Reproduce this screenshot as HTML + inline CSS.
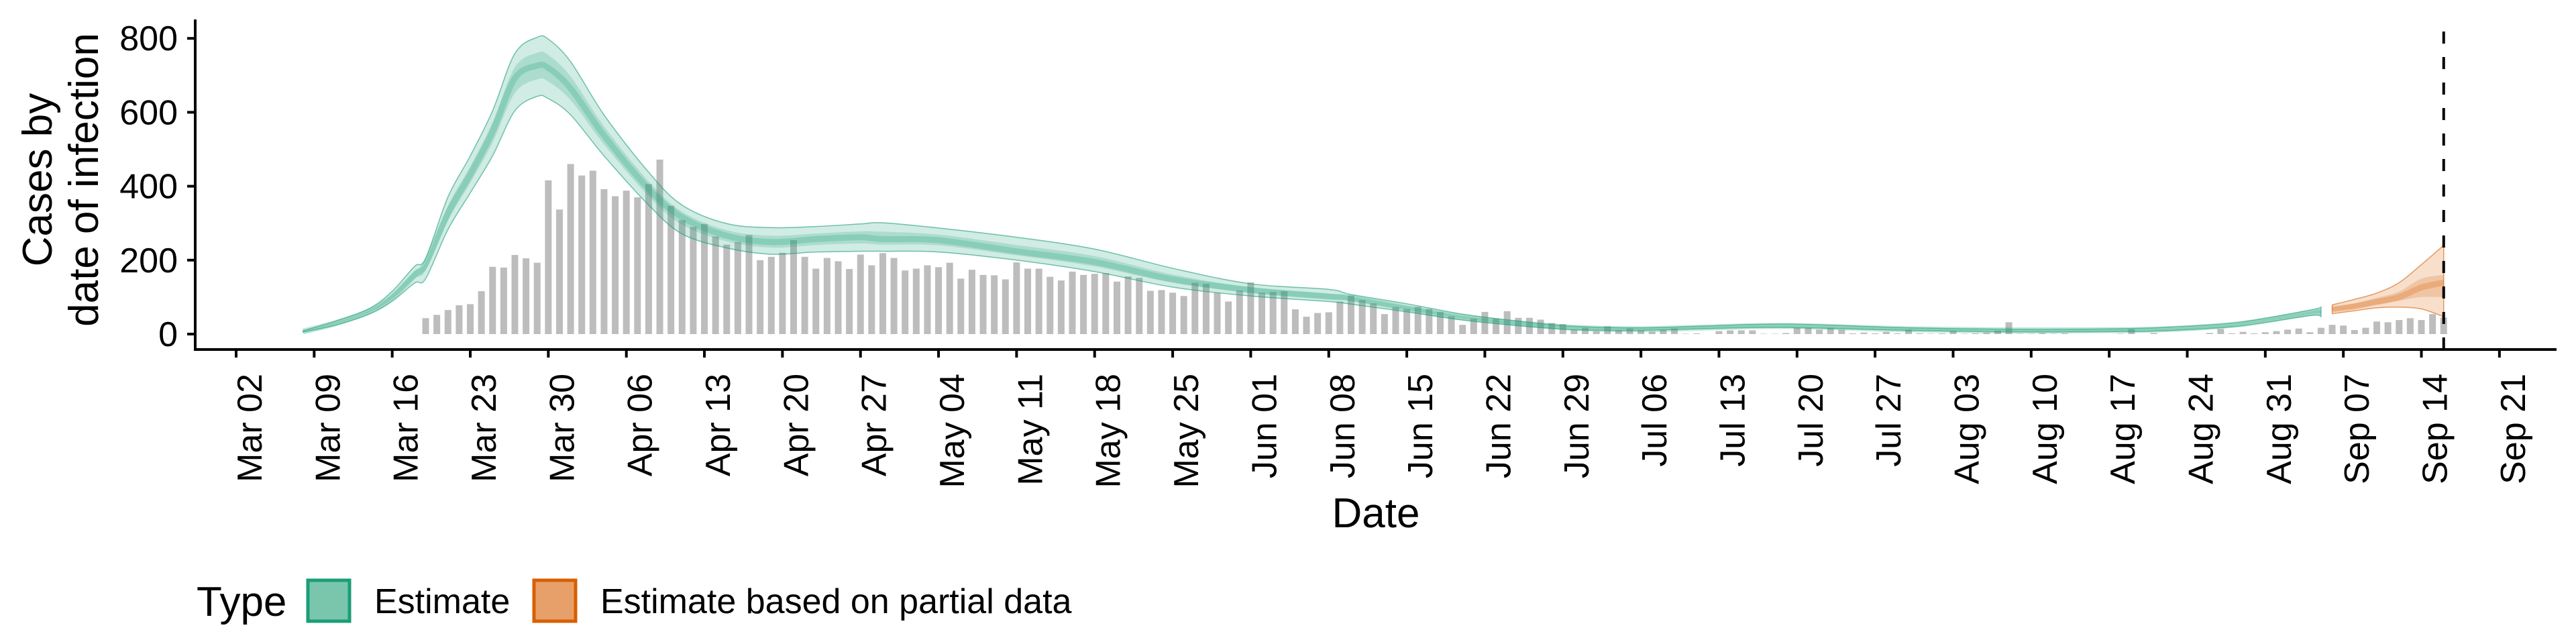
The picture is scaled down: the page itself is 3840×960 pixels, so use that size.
<!DOCTYPE html>
<html><head><meta charset="utf-8">
<style>
html,body{margin:0;padding:0;background:#fff;}
svg{display:block;font-family:"Liberation Sans",sans-serif;}
</style></head>
<body>
<svg id="chart" width="3840" height="960" viewBox="0 0 3840 960" xmlns="http://www.w3.org/2000/svg">
  <g id="bars"></g>
  <g id="bands"></g>
  <g id="axes"></g>
  <g font-size="62" fill="#000">
    <text transform="translate(77,268) rotate(-90)" text-anchor="middle">Cases by</text>
    <text transform="translate(146,268) rotate(-90)" text-anchor="middle">date of infection</text>
  </g>
  <text x="2051" y="786" font-size="62" text-anchor="middle">Date</text>
  <g>
    <text x="293" y="918" font-size="62">Type</text>
    <g>
      <rect x="459" y="865" width="62" height="61" fill="#79c6ad" stroke="#1b9e77" stroke-width="5"/>
      <text x="558" y="914" font-size="52">Estimate</text>
    </g>
    <g>
      <rect x="796" y="865" width="62" height="61" fill="#e8a06a" stroke="#d95f02" stroke-width="5"/>
      <text x="895" y="914" font-size="52">Estimate based on partial data</text>
    </g>
  </g>
</svg>
<script>
// ---- data ----
const barStartDay = 17; // Mar 19 (day 0 = Mar 02)
const barValues = [43,52,65,78,81,116,182,180,214,205,193,416,337,460,429,442,392,373,388,370,406,472,347,308,290,298,264,242,249,268,200,209,220,254,209,177,206,197,176,
215,186,219,206,172,177,186,181,193,150,174,160,159,148,194,177,177,155,145,169,160,163,165,142,156,152,117,119,112,103,139,136,112,88,118,140,112,114,116,67,47,57,59,
88,104,92,83,54,73,68,74,68,60,48,25,42,60,42,62,44,44,39,30,27,12,17,8,21,10,15,10,7,11,15,1,2,0,8,10,10,10,1,1,3,
17,17,12,17,12,2,4,2,6,2,12,2,1,2,9,1,2,4,9,32,1,1,3,1,2,0,0,0,0,1,13,0,3,0,0,0,0,3,14,2,6,2,5,
8,12,15,5,17,25,23,11,17,34,32,38,43,38,54,45];
const estDays = [6,9,12,14,16,17,19,21,23,25,27,28,30,33,37,40,44,48,52,56,58,63,70,77,84,91,98,100,105,110,115,120,126,132,139,150,160,170,175,180,186,187];
const estMedian = [7,30,62,100,160,190,327,432,548,692,726,720,665,537,393,316,266,249,257,262,257,254,224,195,148,119,101,97,70,45,29,17,13,18,22,13,10,11,16,28,57,60];
const estHi90 = [9,36,70,116,183,205,371,482,604,759,803,798,737,593,438,349,299,288,291,298,301,287,262,230,178,136,121,107,82,54,35,21,17,22,27,17,13,15,21,33,65,73];
const estLo90 = [5,25,55,89,138,150,283,382,482,604,643,637,593,482,349,271,233,216,222,224,224,222,200,169,127,103,88,81,60,38,23,12,10,15,18,10,6,7,12,23,50,47];
const estHi50 = [8,33,66,107,170,197,347,454,573,722,761,755,697,562,413,331,281,266,272,278,277,269,241,211,161,127,110,102,75,49,32,19,15,20,24,15,11,13,18,30,61,66];
const estLo50 = [6,28,59,95,150,172,307,409,518,652,689,683,633,513,373,296,251,234,241,245,242,240,213,183,139,112,95,90,66,42,26,15,12,17,20,12,8,9,14,26,54,54];
const partDays = [188,190,192,194,196,198];
const partMedian = [67,75,87,100,126,139];
const partHi90 = [79,94,111,139,188,240];
const partLo90 = [55,63,71,73,68,47];
const partHi50 = [72,83,98,115,150,160];
const partLo50 = [62,69,80,90,100,100];
const yTicks = [0,200,400,600,800];
const xTickLabels = ["Mar 02","Mar 09","Mar 16","Mar 23","Mar 30","Apr 06","Apr 13","Apr 20","Apr 27","May 04","May 11","May 18","May 25","Jun 01","Jun 08","Jun 15","Jun 22","Jun 29","Jul 06","Jul 13","Jul 20","Jul 27","Aug 03","Aug 10","Aug 17","Aug 24","Aug 31","Sep 07","Sep 14","Sep 21"];
const cutoffDay = 198;

// ---- scales ----
const X0 = 352, DX = 16.62, Y0 = 498, DY = 0.551;
const x = d => X0 + d * DX;
const y = v => Y0 - v * DY;
const NS = "http://www.w3.org/2000/svg";
function mk(tag, attrs, parent){const e=document.createElementNS(NS,tag);for(const k in attrs)e.setAttribute(k,attrs[k]);parent.appendChild(e);return e;}

// bars
const gb = document.getElementById('bars');
barValues.forEach((v,i)=>{
  const d = barStartDay + i;
  const r = mk('rect',{x:x(d)-5,y:y(v),width:10,height:Math.max(0,Y0-y(v)),fill:'#bdbdbd'},gb);
  
  
});

// smooth path helper (Catmull-Rom)
function smooth(pts){
  let s = `M${pts[0][0]},${pts[0][1]}`;
  for(let i=0;i<pts.length-1;i++){
    const p0=pts[Math.max(0,i-1)],p1=pts[i],p2=pts[i+1],p3=pts[Math.min(pts.length-1,i+2)];
    const c1=[p1[0]+(p2[0]-p0[0])/6,p1[1]+(p2[1]-p0[1])/6];
    const c2=[p2[0]-(p3[0]-p1[0])/6,p2[1]-(p3[1]-p1[1])/6];
    s+=`C${c1[0]},${c1[1]} ${c2[0]},${c2[1]} ${p2[0]},${p2[1]}`;
  }
  return s;
}
function bandPath(days,hi,lo){
  const top = days.map((d,i)=>[x(d),y(hi[i])]);
  const bot = days.map((d,i)=>[x(d),y(lo[i])]).reverse();
  return smooth(top) + smooth(bot).replace('M','L') + 'Z';
}
const gband = document.getElementById('bands');
function drawSeries(name,days,med,hi90,lo90,hi50,lo50,col){
  const p1 = mk('path',{d:bandPath(days,hi90,lo90),fill:col,'fill-opacity':0.2,stroke:col,'stroke-opacity':0.6,'stroke-width':1.5},gband);
  
  
  const p2 = mk('path',{d:bandPath(days,hi50,lo50),fill:col,'fill-opacity':0.2},gband);
  
  
  const p3 = mk('path',{d:smooth(days.map((d,i)=>[x(d),y(med[i])])),fill:'none',stroke:col,'stroke-opacity':0.25,'stroke-width':9},gband);
  
  
}
drawSeries('estimate',estDays,estMedian,estHi90,estLo90,estHi50,estLo50,'#1b9e77');
drawSeries('partial-estimate',partDays,partMedian,partHi90,partLo90,partHi50,partLo50,'#d95f02');

// axes
const ga = document.getElementById('axes');
const yl = mk('line',{x1:291,y1:29,x2:291,y2:523,stroke:'#000','stroke-width':4},ga);


const xl = mk('line',{x1:289,y1:521,x2:3811,y2:521,stroke:'#000','stroke-width':4},ga);


yTicks.forEach(v=>{
  mk('line',{x1:279,y1:y(v),x2:291,y2:y(v),stroke:'#000','stroke-width':4},ga);
  const t = mk('text',{x:265,y:y(v)+18,'font-size':52,'text-anchor':'end'},ga);
  t.textContent = v;
  
  
});
xTickLabels.forEach((lab,i)=>{
  const d = i*7;
  mk('line',{x1:x(d),y1:521,x2:x(d),y2:533,stroke:'#000','stroke-width':4},ga);
  const t = mk('text',{transform:`translate(${x(d)+38},557) rotate(-90)`,'font-size':52,'text-anchor':'end'},ga);
  t.textContent = lab;
  
  
});
const cut = mk('line',{x1:x(cutoffDay),y1:47,x2:x(cutoffDay),y2:521,stroke:'#000','stroke-width':4,'stroke-dasharray':'18,20'},ga);


</script>
</body></html>
